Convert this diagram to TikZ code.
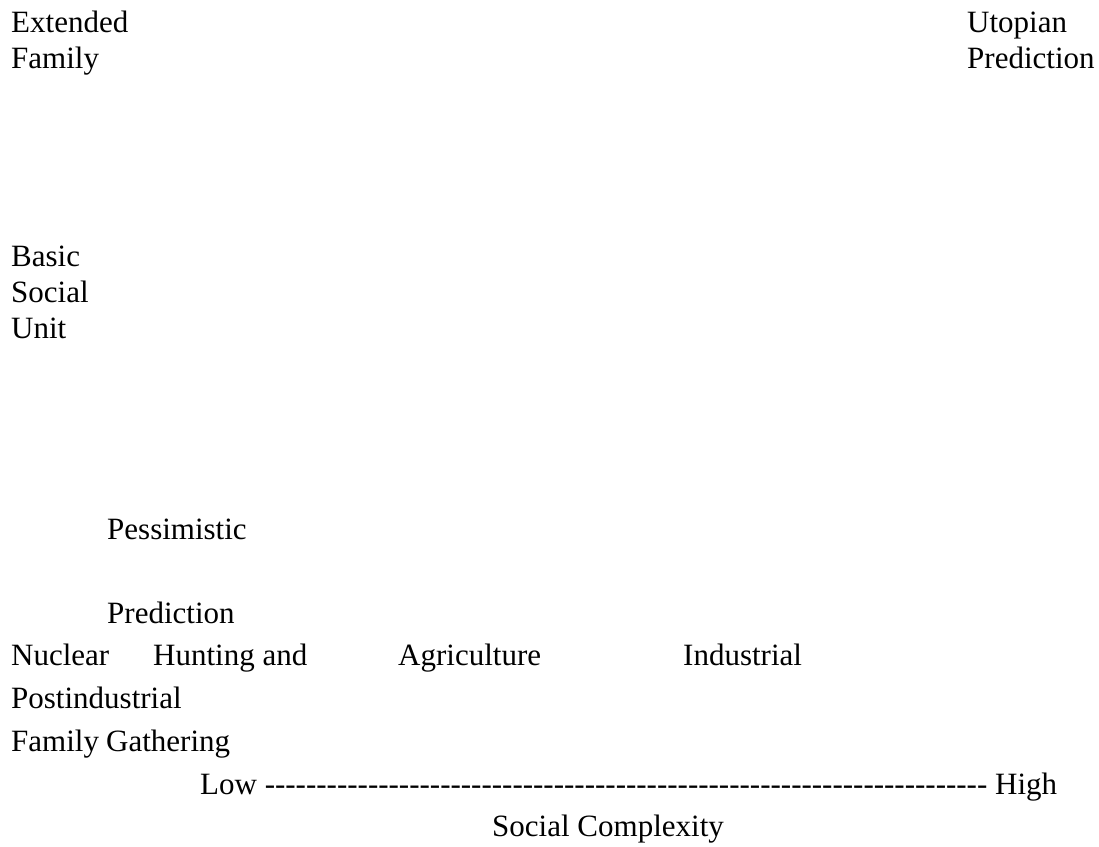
\documentclass[tikz,border=0pt]{standalone}
\usepackage{fontspec}
\setmainfont{Liberation Serif}
\newfontfamily\labelfont{Liberation Serif}
\usepackage{tikz}
\usetikzlibrary{positioning}
\tikzset{lbl/.style={anchor=base west,inner sep=0pt,font=\labelfont\fontsize{31}{36}\selectfont}}

\begin{document}
\begin{tikzpicture}[x=1pt,y=-1pt]
\useasboundingbox (0,0) rectangle (1099,846);
\node[lbl] (ext1) at (11,32) {Extended};
\node[lbl] (ext2) at (11,68) {Family};
\node[lbl] (uto1) at (967,32) {Utopian};
\node[lbl] (uto2) at (967,68) {Prediction};
\node[lbl] (bsu1) at (11,266) {Basic};
\node[lbl] (bsu2) at (11,302) {Social};
\node[lbl] (bsu3) at (11,338) {Unit};
\node[lbl] (pes1) at (107,539) {Pessimistic};
\node[lbl] (pes2) at (107,623) {Prediction};
\node[lbl] (nuc1) at (11,665) {Nuclear};
\node[lbl] (hunt) at (153,665) {Hunting and};
\node[lbl] (agri) at (398,665) {Agriculture};
\node[lbl] (indu) at (683,665) {Industrial};
\node[lbl] (post) at (11,708) {Postindustrial};
\node[lbl] (nuc2) at (11,751) {Family};
\node[lbl] (gath) at (106,751) {Gathering};
\node[lbl] (axis) at (200,794) {Low \foreach \i in {1,...,70}{-}\ High};
\node[lbl] (cplx) at (492,836) {Social Complexity};
\end{tikzpicture}
\end{document}
